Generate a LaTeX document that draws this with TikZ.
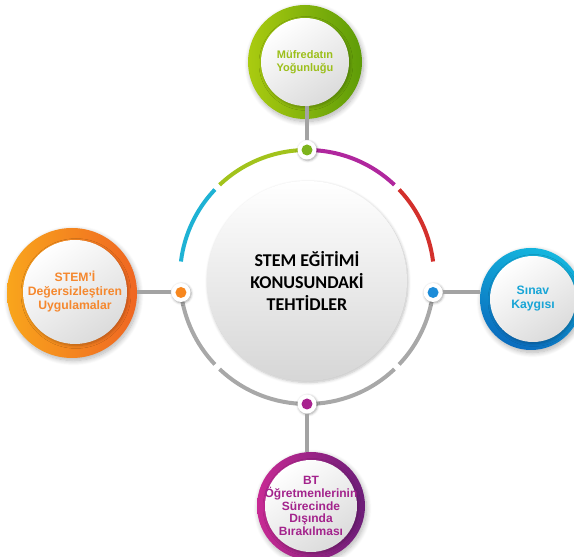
\documentclass[tikz,border=0pt]{standalone}
\usepackage{fontspec}
\setmainfont{Liberation Sans}
\newfontfamily\titlefont{Carlito}
\usetikzlibrary{shadows.blur}

% palette
\definecolor{grnL}{HTML}{AACB10}
\definecolor{grnD}{HTML}{5E9C08}
\definecolor{grnT}{HTML}{9CBF1A}
\definecolor{grnDot}{HTML}{7DB41C}
\definecolor{orgL}{HTML}{F9A51C}
\definecolor{orgD}{HTML}{EF6622}
\definecolor{orgT}{HTML}{F5882E}
\definecolor{orgDot}{HTML}{F7871E}
\definecolor{bluL}{HTML}{14B6DE}
\definecolor{bluD}{HTML}{0A6CBE}
\definecolor{bluT}{HTML}{18A5D6}
\definecolor{bluDot}{HTML}{1C8CD8}
\definecolor{purL}{HTML}{C82A94}
\definecolor{purD}{HTML}{6C1E78}
\definecolor{purT}{HTML}{A3238C}
\definecolor{purDot}{HTML}{A8228F}
\definecolor{arcGrn}{HTML}{A2C31C}
\definecolor{arcCya}{HTML}{1EB2D4}
\definecolor{arcMag}{HTML}{B0279E}
\definecolor{arcRed}{HTML}{D3302C}
\definecolor{arcGry}{HTML}{A8A8A8}
\definecolor{linkGry}{HTML}{A3A3A3}

\begin{document}
\begin{tikzpicture}[x=1pt,y=1pt,
  softshadow/.style={blur shadow={shadow blur steps=10, shadow xshift=1.5pt,
      shadow yshift=-2.5pt, shadow blur radius=5pt, shadow opacity=30}},
  ring/.style={circle, inner sep=0pt, minimum size=#1, softshadow},
  face/.style={circle, inner sep=0pt, minimum size=#1,
      top color=white, bottom color=black!14, shading angle=35,
      blur shadow={shadow blur steps=6, shadow xshift=1pt, shadow yshift=-1.5pt,
      shadow blur radius=3pt, shadow opacity=25}},
  caption/.style={inner sep=0pt, align=center},
  arcline/.style={line width=4pt},
  link/.style={draw=linkGry, line width=4pt},
  dotout/.style={circle, fill=white, inner sep=0pt, minimum size=19pt,
      blur shadow={shadow blur steps=5, shadow xshift=0.8pt, shadow yshift=-1pt,
      shadow blur radius=2.5pt, shadow opacity=35}},
  dotin/.style={circle, inner sep=0pt, minimum size=11pt}
]
\useasboundingbox (0,0) rectangle (574,557);
\clip (0,0) rectangle (574,557);

\coordinate (cen) at (307,280);

% segmented ring around the centre
\draw[arcline, arcMag] ([shift={(46.5:127)}]cen) arc[start angle=46.5, end angle=90, radius=127];
\draw[arcline, arcGrn] ([shift={(90:127)}]cen) arc[start angle=90, end angle=133.5, radius=127];
\draw[arcline, arcCya] ([shift={(136.5:127)}]cen) arc[start angle=136.5, end angle=173, radius=127];
\draw[arcline, arcRed] ([shift={(7:127)}]cen) arc[start angle=7, end angle=43.5, radius=127];
\draw[arcline, arcGry] ([shift={(187:127)}]cen) arc[start angle=187, end angle=223.5, radius=127];
\draw[arcline, arcGry] ([shift={(226.5:127)}]cen) arc[start angle=226.5, end angle=313.5, radius=127];
\draw[arcline, arcGry] ([shift={(316.5:127)}]cen) arc[start angle=316.5, end angle=353, radius=127];

% central disc
\node[face=200pt, bottom color=black!16] (core) at (307,276) {};
\node[caption, font=\titlefont\bfseries\fontsize{18}{22}\selectfont] (coretxt) at (core)
  {STEM EĞİTİMİ\\KONUSUNDAKİ\\TEHTİDLER};

% outer rings
\node[ring=114pt, left color=grnL, right color=grnD] (gout) at (305,495) {};
\node[face=88pt] (gin) at (gout) {};
\node[caption, text=grnT, font=\bfseries\fontsize{11}{12.5}\selectfont] (gtxt) at (gin)
  {Müfredatın\\Yoğunluğu};

\node[ring=130pt, left color=orgL, right color=orgD] (oout) at (72,264) {};
\node[face=104pt] (oin) at (75,265) {};
\node[caption, text=orgT, font=\bfseries\fontsize{12.2}{14}\selectfont] (otxt) at (oin)
  {STEM’İ\\Değersizleştiren\\Uygulamalar};

\node[ring=102pt, left color=bluL, right color=bluD, shading angle=-20] (bout) at (531,258) {};
\node[face=86pt] (bin) at (533,258) {};
\node[caption, text=bluT, font=\bfseries\fontsize{12.2}{14}\selectfont] (btxt) at (bin)
  {Sınav\\Kaygısı};

\node[ring=108pt, left color=purL, right color=purD] (pout) at (311,51) {};
\node[face=92pt] (pin) at (pout) {};
\node[caption, text=purT, font=\bfseries\fontsize{12}{12.6}\selectfont] (ptxt) at (pin)
  {BT\\Öğretmenlerinin\\Sürecinde\\Dışında\\Bırakılması};

% junction dots
\node[dotout] (dtop) at ([shift={(90:127)}]cen) {};
\node[dotout] (dleft) at ([shift={(187:127)}]cen) {};
\node[dotout] (dright) at ([shift={(-7:127)}]cen) {};
\node[dotout] (dbot) at ([shift={(270:127)}]cen) {};

% connectors
\draw[link] (dtop.north) -- (dtop |- gin.south);
\draw[link] (dleft.west) -- (dleft -| oout.east);
\draw[link] (dright.east) -- (dright -| bout.west);
\draw[link] (dbot.south) -- (dbot |- pout.north);

\node[dotin, fill=grnDot] (ctop) at (dtop) {};
\node[dotin, fill=orgDot] (cleft) at (dleft) {};
\node[dotin, fill=bluDot] (cright) at (dright) {};
\node[dotin, fill=purDot] (cbot) at (dbot) {};
\end{tikzpicture}
\end{document}
